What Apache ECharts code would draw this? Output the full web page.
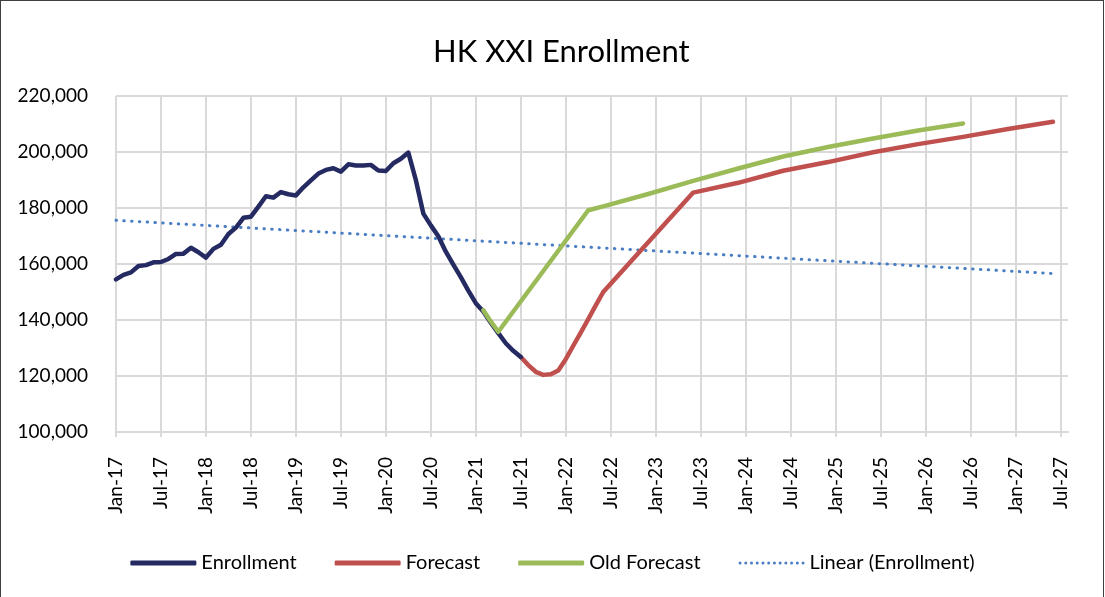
<!DOCTYPE html>
<html>
<head>
<meta charset="utf-8">
<script src="https://cdn.jsdelivr.net/npm/echarts@6/dist/echarts.min.js"></script>
<style>
  html, body { margin: 0; padding: 0; overflow: hidden; background: #fff; }
  #frame { position: absolute; left: 0; top: 0; width: 1102px; height: 620px; border: 1px solid #404040; }
  #main { position: absolute; left: 0; top: 0; width: 1105px; height: 597px; }
</style>
</head>
<body>
<div id="frame"></div>
<div id="main"></div>
<script>
// months on the x axis, Jan-17 .. Aug-27
var monthNames = ['Jan','Feb','Mar','Apr','May','Jun','Jul','Aug','Sep','Oct','Nov','Dec'];
var months = [];
for (var y = 17; y <= 27; y++) {
  for (var m = 0; m < 12; m++) {
    if (y == 27 && m > 7) break;
    months.push(monthNames[m] + '-' + y);
  }
}

// actual enrollment, monthly Jan-17 .. Jul-21
var enrollment = [
  154500, 156100, 157000, 159300, 159600, 160600, 160700, 161800, 163600, 163700, 165800, 164200,
  162300, 165400, 166900, 170700, 173000, 176500, 176900, 180500, 184200, 183700, 185700, 184900,
  184500, 187400, 189900, 192300, 193600, 194200, 193000, 195600, 195200, 195200, 195400, 193400,
  193200, 196000, 197600, 199800, 190000, 178000, 173800, 169900, 164400, 159800, 155300, 150500,
  146000, 143000, 139000, 135300, 131700, 129000, 126800
];

var forecastMonths = ['Jul-21','Aug-21','Sep-21','Oct-21','Nov-21','Dec-21','Jan-22','Feb-22','Mar-22','Apr-22','May-22','Jun-22',
  'Jun-23','Dec-23','Jun-24','Dec-24','Jun-25','Dec-25','Jun-26','Dec-26','Jun-27'];
var forecastValues = [126800, 123900, 121500, 120400, 120600, 122000, 126000, 130800, 135500, 140300, 145200, 150000,
  185500, 189000, 193300, 196400, 199900, 202800, 205400, 208200, 210800];

var oldForecastMonths = ['Feb-21','Mar-21','Apr-21','Apr-22','Jun-22','Dec-22','Jun-23','Dec-23','Jun-24','Dec-24','Jun-25','Dec-25','Jun-26'];
var oldForecastValues = [143500, 139500, 135800, 179200, 180600, 185000, 189700, 194100, 198400, 201800, 204800, 207700, 210200];

var trendMonths = ['Jan-17', 'Jun-27'];
var trendValues = [175600, 156600];

function pairs(ms, vs) {
  var out = [];
  for (var i = 0; i < ms.length; i++) out.push([ms[i], vs[i]]);
  return out;
}

// legend icon for the dotted trend line: a row of small dots
var dotIcon = 'path://';
for (var k = 0; k < 12; k++) {
  var cx = 1.5 + k * 5.7;
  dotIcon += 'M' + (cx - 1.5) + ',2.5 a1.5,1.5 0 1,0 3,0 a1.5,1.5 0 1,0 -3,0 ';
}

var font = 'Lato';
var chart = echarts.init(document.getElementById('main'));

var option = {
  animation: false,
  textStyle: { fontFamily: font },
  title: {
    text: 'HK XXI Enrollment',
    left: 428,
    top: 31,
    textStyle: { fontFamily: font, fontSize: 31, fontWeight: 'normal', color: '#000' }
  },
  grid: { left: 116, right: 37, top: 96, bottom: 165 },
  legend: {
    bottom: 19,
    left: 'center',
    itemWidth: 66,
    itemHeight: 5,
    itemGap: 38,
    textStyle: { fontFamily: font, fontSize: 20, color: '#000' },
    data: [
      { name: 'Enrollment', icon: 'roundRect' },
      { name: 'Forecast', icon: 'roundRect' },
      { name: 'Old Forecast', icon: 'roundRect' },
      { name: 'Linear (Enrollment)', icon: dotIcon }
    ]
  },
  xAxis: {
    type: 'category',
    data: months,
    boundaryGap: false,
    axisLine: { lineStyle: { color: '#d9d9d9', width: 2 } },
    axisTick: { show: true, interval: 5, length: 5, lineStyle: { color: '#d9d9d9', width: 2 } },
    axisLabel: { interval: 5, rotate: 90, margin: 25, fontSize: 19, color: '#000', fontFamily: font },
    splitLine: { show: true, interval: 5, lineStyle: { color: '#d9d9d9', width: 2 } }
  },
  yAxis: {
    type: 'value',
    min: 100000,
    max: 220000,
    interval: 20000,
    axisLine: { show: false },
    axisTick: { show: false },
    axisLabel: {
      margin: 28, fontSize: 19, color: '#000', fontFamily: font,
      formatter: function (v) { return v.toLocaleString('en-US'); }
    },
    splitLine: { lineStyle: { color: '#d9d9d9', width: 2 } }
  },
  series: [
    {
      name: 'Linear (Enrollment)', type: 'line', symbol: 'none', z: 1,
      data: pairs(trendMonths, trendValues),
      lineStyle: { color: '#4a7dc4', width: 3, type: [0.5, 7.3], cap: 'round' },
      itemStyle: { color: '#4a7dc4' }
    },
    {
      name: 'Enrollment', type: 'line', symbol: 'none', z: 3,
      data: enrollment,
      lineStyle: { color: '#252a62', width: 4.5, cap: 'round', join: 'round' },
      itemStyle: { color: '#252a62' }
    },
    {
      name: 'Forecast', type: 'line', symbol: 'none', z: 2,
      data: pairs(forecastMonths, forecastValues),
      lineStyle: { color: '#c0504d', width: 4.5, cap: 'round', join: 'round' },
      itemStyle: { color: '#c0504d' }
    },
    {
      name: 'Old Forecast', type: 'line', symbol: 'none', z: 4,
      data: pairs(oldForecastMonths, oldForecastValues),
      lineStyle: { color: '#9bbb59', width: 4.5, cap: 'round', join: 'round' },
      itemStyle: { color: '#9bbb59' }
    }
  ]
};

chart.setOption(option);
</script>
</body>
</html>
